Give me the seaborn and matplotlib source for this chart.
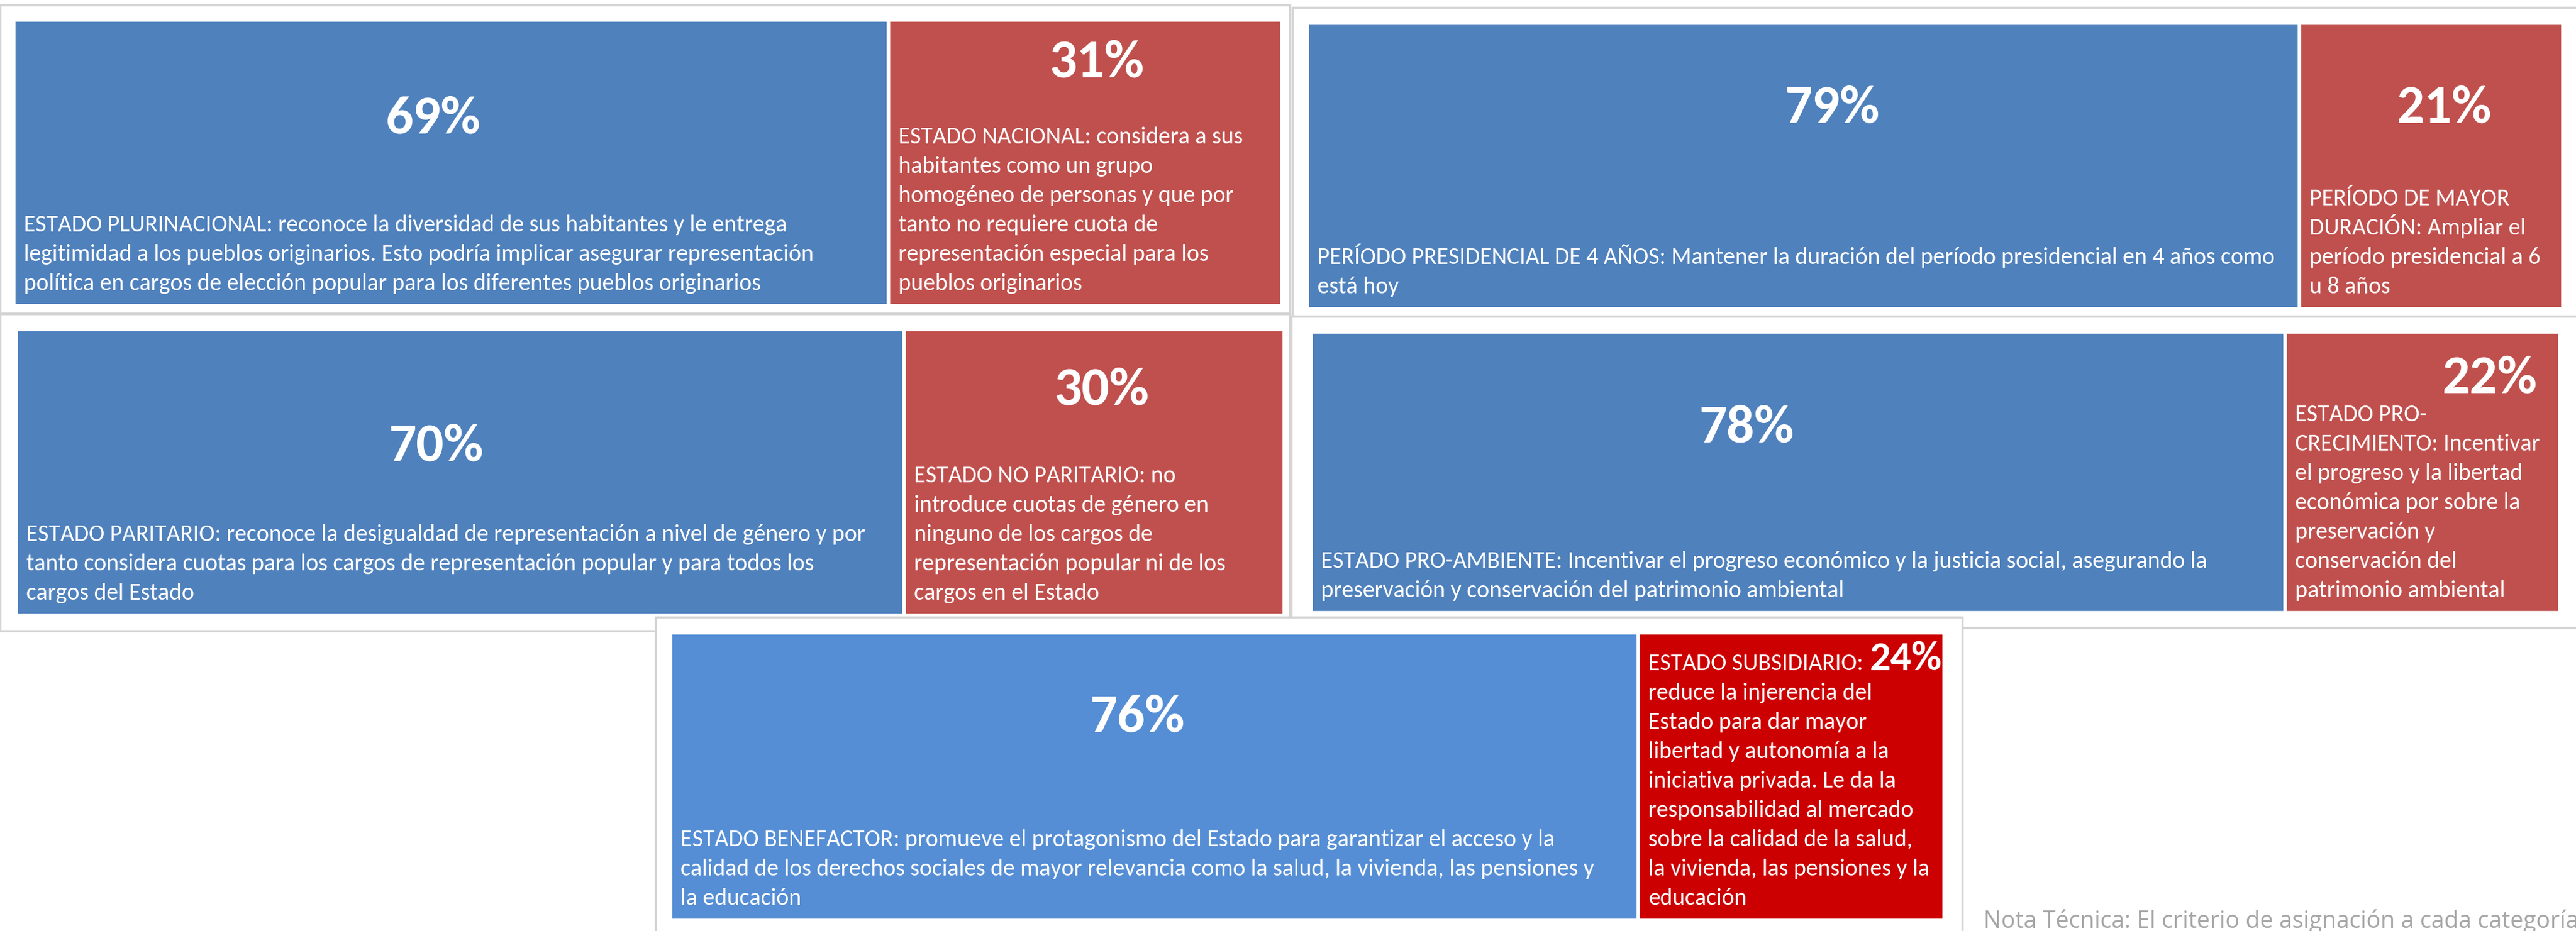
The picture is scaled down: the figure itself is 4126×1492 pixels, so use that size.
import pandas as pd
import numpy as np
import seaborn as sns
import matplotlib.pyplot as plt
from matplotlib import font_manager
from matplotlib.patches import Rectangle

# Datos de cada panel: porcentaje a favor (azul) y en contra (rojo)
paneles = ["plurinacional", "periodo", "paritario", "ambiente", "benefactor"]
a_favor = [69, 79, 70, 78, 76]
en_contra = [31, 21, 30, 22, 24]

textos_azul = [
    ["ESTADO PLURINACIONAL: reconoce la diversidad de sus habitantes y le entrega",
     "legitimidad a los pueblos originarios. Esto podría implicar asegurar representación",
     "política en cargos de elección popular para los diferentes pueblos originarios"],
    ["PERÍODO PRESIDENCIAL DE 4 AÑOS: Mantener la duración del período presidencial en 4 años como",
     "está hoy"],
    ["ESTADO PARITARIO: reconoce la desigualdad de representación a nivel de género y por",
     "tanto considera cuotas para los cargos de representación popular y para todos los",
     "cargos del Estado"],
    ["ESTADO PRO-AMBIENTE: Incentivar el progreso económico y la justicia social, asegurando la",
     "preservación y conservación del patrimonio ambiental"],
    ["ESTADO BENEFACTOR: promueve el protagonismo del Estado para garantizar el acceso y la",
     "calidad de los derechos sociales de mayor relevancia como la salud, la vivienda, las pensiones y",
     "la educación"],
]
textos_rojo = [
    ["ESTADO NACIONAL: considera a sus", "habitantes como un grupo",
     "homogéneo de personas y que por", "tanto no requiere cuota de",
     "representación especial para los", "pueblos originarios"],
    ["PERÍODO DE MAYOR", "DURACIÓN: Ampliar el", "período presidencial a 6", "u 8 años"],
    ["ESTADO NO PARITARIO: no", "introduce cuotas de género en", "ninguno de los cargos de",
     "representación popular ni de los", "cargos en el Estado"],
    ["ESTADO PRO-", "CRECIMIENTO: Incentivar", "el progreso y la libertad",
     "económica por sobre la", "preservación y", "conservación del", "patrimonio ambiental"],
    ["ESTADO SUBSIDIARIO:", "reduce la injerencia del", "Estado para dar mayor",
     "libertad y autonomía a la", "iniciativa privada. Le da la", "responsabilidad al mercado",
     "sobre la calidad de la salud,", "la vivienda, las pensiones y la", "educación"],
]
nota = "Nota Técnica: El criterio de asignación a cada categoría"

# Estilo y disposicion (pixeles, origen arriba a la izquierda)
color_azul = ["#4F81BD", "#4F81BD", "#4F81BD", "#4F81BD", "#558ED5"]
color_rojo = ["#C0504D", "#C0504D", "#C0504D", "#C0504D", "#CC0000"]
marcos = [(0, 8, 2066, 502), (2070, 12, 4140, 507), (0, 503, 2066, 1011),
          (2068, 507, 4140, 1006), (1050, 989, 3143, 1510)]
barras = [(22, 32, 2053, 490), (2094, 36, 4105, 495), (26, 528, 2057, 986),
          (2100, 532, 4100, 982), (1074, 1014, 3114, 1475)]
# posicion del % dentro de cada segmento (fraccion x, fraccion y desde arriba, escala)
pos_pct_azul = [(0.479, 0.345, 1), (0.529, 0.298, 1), (0.473, 0.408, 1), (0.447, 0.34, 1), (0.482, 0.293, 1)]
pos_pct_rojo = [(0.53, 0.148, 1), (0.548, 0.298, 1), (0.52, 0.212, 1), (0.744, 0.164, 1), (0.875, 0.091, 0.76)]

W, H, DPI = 4126, 1492, 100

sns.set_style("white")


def fuente(*nombres):
    for n in nombres:
        try:
            font_manager.findfont(n, fallback_to_default=False)
            return n
        except Exception:
            pass
    return "DejaVu Sans"


letra = fuente("Carlito", "Lato")
if letra == "Carlito":
    tam_txt, tam_pct = 27.4, 63
else:
    tam_txt, tam_pct = 24.2, 55
plt.rcParams["font.family"] = [letra, "DejaVu Sans"]

fig = plt.figure(figsize=(W / DPI, H / DPI), dpi=DPI)


def caja(x0, y0, x1, y1):
    return [x0 / W, 1 - y1 / H, (x1 - x0) / W, (y1 - y0) / H]


def a_fig(px, py):
    return px / W, 1 - py / H


# marcos de cada grafico
for (x0, y0, x1, y1) in marcos:
    fig.patches.append(Rectangle((x0 / W, 1 - y1 / H), (x1 - x0) / W, (y1 - y0) / H,
                                 transform=fig.transFigure, facecolor="white",
                                 edgecolor="#D4D4D4", linewidth=2.5, zorder=-1))

PAD_X, PAD_Y, PASO = 16, 25, 47

for i in range(len(paneles)):
    ax = fig.add_axes(caja(*barras[i]))
    df = pd.DataFrame({"fila": [paneles[i]], "total": [a_favor[i] + en_contra[i]], "azul": [a_favor[i]]})
    sns.barplot(data=df, x="total", y="fila", orient="h", width=1, color=color_rojo[i],
                saturation=1, edgecolor="white", linewidth=4, ax=ax)
    sns.barplot(data=df, x="azul", y="fila", orient="h", width=1, color=color_azul[i],
                saturation=1, edgecolor="white", linewidth=4, ax=ax)
    ax.set_xlim(0, a_favor[i] + en_contra[i])
    ax.set_ylim(0.5, -0.5)
    ax.axis("off")

    x0, y0, x1, y1 = barras[i]
    segmentos = [(0, a_favor[i], textos_azul[i], pos_pct_azul[i], a_favor[i]),
                 (a_favor[i], a_favor[i] + en_contra[i], textos_rojo[i], pos_pct_rojo[i], en_contra[i])]
    for (d0, d1, lineas, (fx, fy, esc), valor) in segmentos:
        # de datos a pixeles
        sx0 = x0 + (x1 - x0) * d0 / (a_favor[i] + en_contra[i])
        sx1 = x0 + (x1 - x0) * d1 / (a_favor[i] + en_contra[i])
        px = sx0 + fx * (sx1 - sx0)
        py = y0 + fy * (y1 - y0)
        fig.text(*a_fig(px, py), f"{valor}%", color="white", fontsize=tam_pct * esc,
                 fontweight="bold", ha="center", va="center")
        n = len(lineas)
        for k, linea in enumerate(lineas):
            by = y1 - PAD_Y - (n - 1 - k) * PASO
            fig.text(*a_fig(sx0 + PAD_X, by), linea, color="white", fontsize=tam_txt,
                     ha="left", va="baseline")

fig.text(*a_fig(3177, 1487), nota, color="#A6A6A6", fontsize=27, ha="left", va="baseline",
         family=[fuente("Open Sans"), "DejaVu Sans"])

fig.savefig("out.png", dpi=DPI)
